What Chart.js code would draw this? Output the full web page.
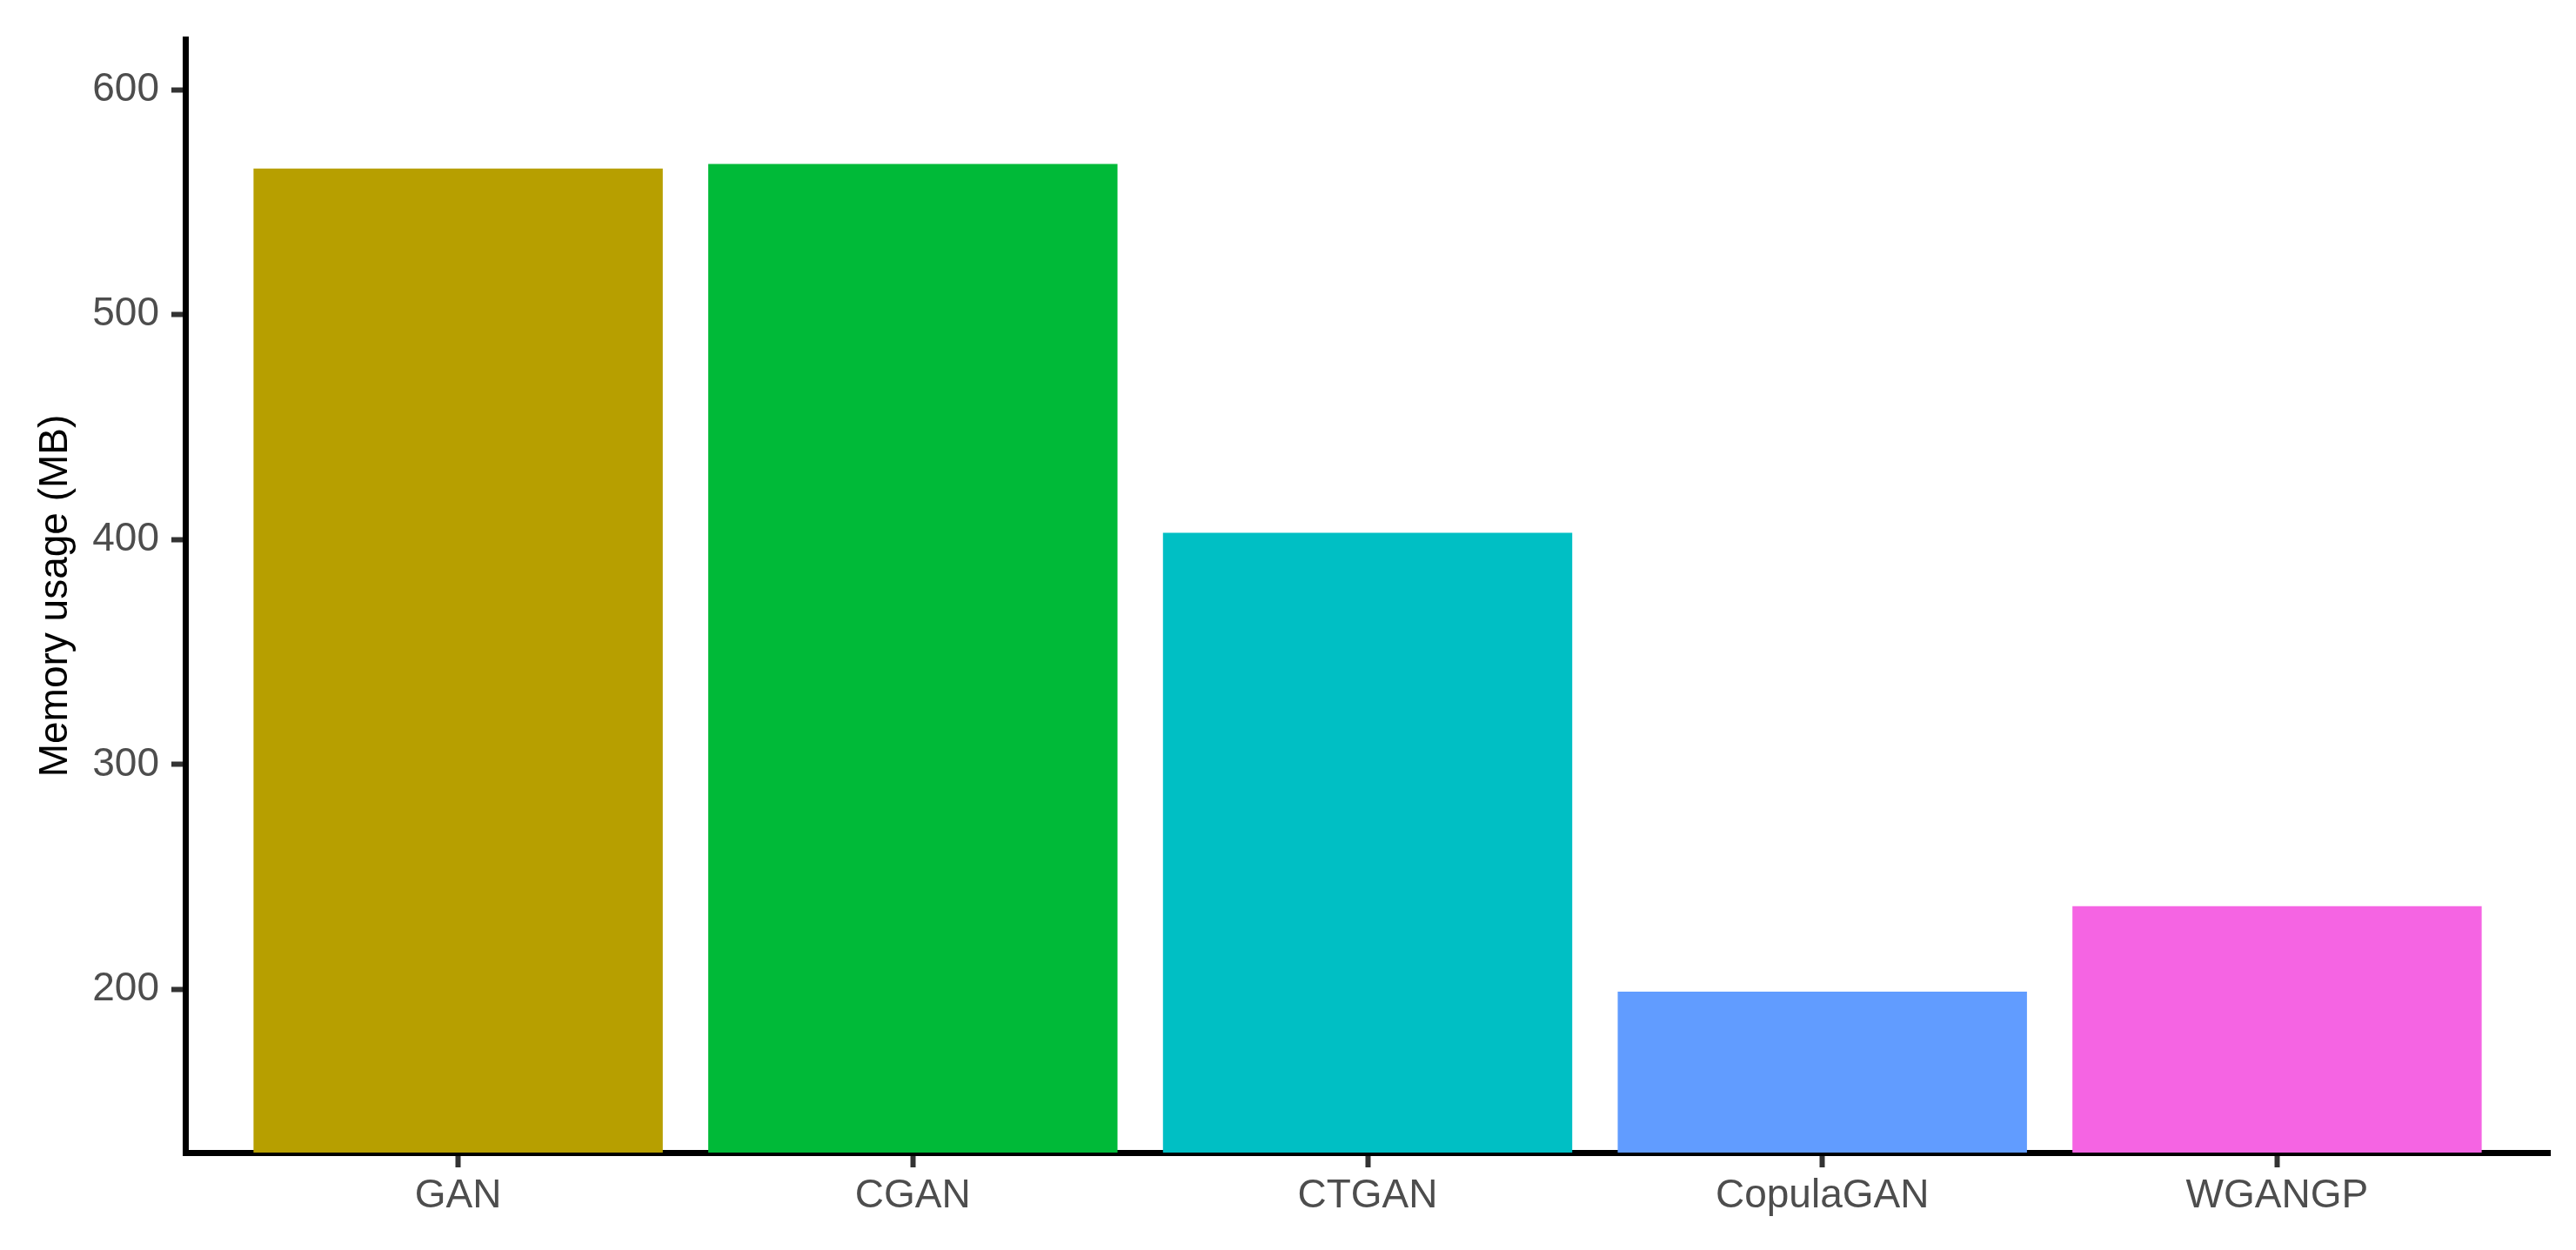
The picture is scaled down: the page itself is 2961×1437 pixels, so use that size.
<!DOCTYPE html>
<html lang="en">

<head>
    <meta charset="UTF-8">
    <title>Memory usage by model</title>
    <script src="https://cdn.jsdelivr.net/npm/chart.js@4.4.0/dist/chart.umd.min.js"></script>
    <style>
        body {
            margin: 0;
            background: #fff;
        }
    </style>
</head>

<body>
    <canvas id="chrt" width="2961" height="1437"></canvas>

    <script>
        // data
        const models = ['GAN', 'CGAN', 'CTGAN', 'CopulaGAN', 'WGANGP']
        const memory = [565, 567, 403, 199, 237]
        const colors = ['#B79F00', '#00BA38', '#00BFC4', '#619CFF', '#F564E3']
        const yTicks = [200, 300, 400, 500, 600]

        const font = { family: "'Liberation Sans', Arial, sans-serif", size: 46 }

        let points = memory.map((v, i) => ({ x: i, y: v }))

        let ctx = document.getElementById('chrt').getContext('2d')
        let myChart = new Chart(ctx, {
            type: 'bar',
            data: {
                datasets: [
                    {
                        data: points,
                        backgroundColor: colors,
                        borderWidth: 0,
                        barPercentage: 0.9,
                        categoryPercentage: 1
                    }
                ]
            },
            options: {
                responsive: false,
                devicePixelRatio: 1,
                animation: false,
                layout: { padding: { top: 45, right: 30, left: 0, bottom: 0 } },
                plugins: {
                    legend: { display: false },
                    tooltip: { enabled: false }
                },
                scales: {
                    x: {
                        type: 'linear',
                        z: 1,
                        offset: false,
                        min: -0.6,
                        max: models.length - 0.4,
                        afterBuildTicks: s => { s.ticks = models.map((m, i) => ({ value: i })) },
                        afterFit: s => { s.height = 112 },
                        grid: {
                            offset: false,
                            drawOnChartArea: false,
                            drawTicks: true,
                            tickLength: 17,
                            tickWidth: 6,
                            tickColor: '#333333'
                        },
                        border: { display: true, color: '#000', width: 7 },
                        ticks: {
                            autoSkip: false,
                            maxRotation: 0,
                            padding: 6,
                            color: '#4D4D4D',
                            font: font,
                            callback: v => models[v]
                        }
                    },
                    y: {
                        z: 1,
                        min: 127.5,
                        max: 622.5,
                        afterBuildTicks: s => { s.ticks = yTicks.map(v => ({ value: v })) },
                        afterFit: s => { s.width = 213 },
                        grid: {
                            drawOnChartArea: false,
                            drawTicks: true,
                            tickLength: 16,
                            tickWidth: 6,
                            tickColor: '#333333'
                        },
                        border: { display: true, color: '#000', width: 7 },
                        ticks: {
                            padding: 14,
                            color: '#4D4D4D',
                            font: font
                        },
                        title: {
                            display: true,
                            text: 'Memory usage (MB)',
                            color: '#000',
                            font: { family: font.family, size: 46, lineHeight: 1 },
                            padding: { top: 41, bottom: 0 }
                        }
                    }
                }
            }
        })
    </script>

</body>

</html>
